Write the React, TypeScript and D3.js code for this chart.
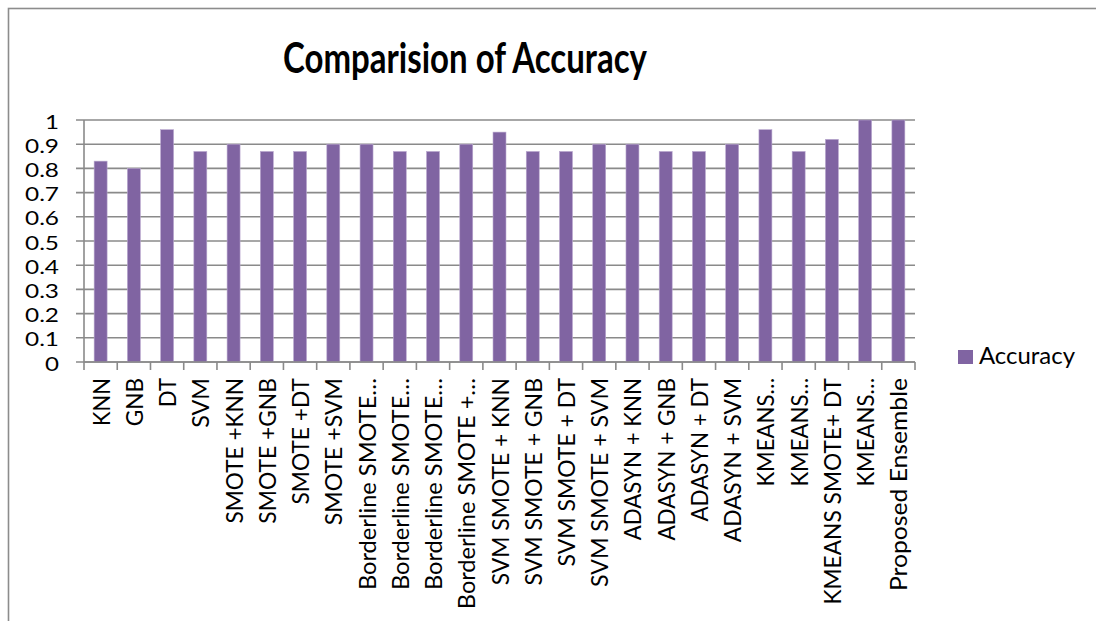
import React from "react";
import * as d3 from "d3";

const categories: string[] = [
  "KNN", "GNB", "DT", "SVM",
  "SMOTE +KNN", "SMOTE +GNB", "SMOTE +DT", "SMOTE +SVM",
  "Borderline SMOTE…", "Borderline SMOTE…", "Borderline SMOTE…", "Borderline SMOTE +…",
  "SVM SMOTE + KNN", "SVM SMOTE + GNB", "SVM SMOTE + DT", "SVM SMOTE + SVM",
  "ADASYN + KNN", "ADASYN + GNB", "ADASYN + DT", "ADASYN + SVM",
  "KMEANS…", "KMEANS…", "KMEANS SMOTE+ DT", "KMEANS…", "Proposed Ensemble",
];
const accuracy: number[] = [
  0.83, 0.8, 0.96, 0.87,
  0.9, 0.87, 0.87, 0.9,
  0.9, 0.87, 0.87, 0.9,
  0.95, 0.87, 0.87, 0.9,
  0.9, 0.87, 0.87, 0.9,
  0.96, 0.87, 0.92, 1.0, 1.0,
];
const yTicks: number[] = [0, 0.1, 0.2, 0.3, 0.4, 0.5, 0.6, 0.7, 0.8, 0.9, 1];
const seriesName = "Accuracy";
const title = "Comparision of Accuracy";

// approximate advance widths (em) of a Calibri-like face, used to size the rotated labels
const charEm: Record<string, number> = {
  " ": 0.226, "+": 0.498, "…": 0.55,
  A: 0.579, B: 0.544, D: 0.615, E: 0.488, G: 0.631, K: 0.52, M: 0.855, N: 0.646,
  O: 0.662, P: 0.517, S: 0.459, T: 0.487, V: 0.567, Y: 0.487,
  b: 0.525, d: 0.525, e: 0.498, i: 0.229, l: 0.229, m: 0.799, n: 0.525, o: 0.527,
  p: 0.525, r: 0.349, s: 0.391,
};
function emWidth(s: string): number {
  let w = 0;
  for (const ch of s) w += charEm[ch] ?? 0.5;
  return w;
}

export default function App() {
  const W = 1096, H = 621;
  const left = 84, right = 915, top = 120, bottom = 362;
  const idx = categories.map((_, i) => String(i));
  const x = d3.scaleBand<string>().domain(idx).range([left, right]).padding(0);
  const y = d3.scaleLinear().domain([0, 1]).range([bottom, top]);
  const bw = x.bandwidth() * 0.39;
  const grid = "#8a8a8a";
  const barColor = "#8064A2";
  const font = "Lato, 'Open Sans', sans-serif";
  const labelEm = 26.5;
  return (
    <svg width={W} height={H} style={{ position: "absolute", left: 0, top: 0 }} xmlns="http://www.w3.org/2000/svg">
      <rect x={0} y={0} width={W} height={H} fill="#fff" />
      <rect x={8.5} y={8.5} width={1200} height={800} fill="none" stroke="#8c8c8c" strokeWidth={1.6} />
      <text x={465} y={73} textAnchor="middle" fontFamily={font} fontWeight="bold" fontSize={42} textLength={364} lengthAdjust="spacingAndGlyphs" fill="#000">{title}</text>
      {yTicks.map((t) => {
        const s = String(t);
        const len = s.length === 1 ? 14 : 34;
        return (
          <g key={"g" + t}>
            <line x1={left - 8} x2={right} y1={y(t)} y2={y(t)} stroke={grid} strokeWidth={1.6} />
            <text x={59 - len} y={y(t) + 8.5} fontFamily={font} fontSize={20} textLength={len} lengthAdjust="spacingAndGlyphs" fill="#000">{s}</text>
          </g>
        );
      })}
      <line x1={left} x2={left} y1={top} y2={bottom} stroke={grid} strokeWidth={1.6} />
      {accuracy.map((v, i) => (
        <rect key={"b" + i} x={(x(String(i)) as number) + (x.bandwidth() - bw) / 2} y={y(v)} width={bw} height={bottom - y(v)} fill={barColor} stroke="#b9a8cf" strokeWidth={0.6} />
      ))}
      <line x1={left} x2={right} y1={bottom} y2={bottom} stroke={grid} strokeWidth={1.6} />
      {d3.range(categories.length + 1).map((i) => {
        const xx = left + i * x.step();
        return <line key={"t" + i} x1={xx} x2={xx} y1={bottom} y2={bottom + 8} stroke={grid} strokeWidth={1.6} />;
      })}
      {categories.map((c, i) => {
        const cx = (x(String(i)) as number) + x.bandwidth() / 2 + 9;
        const len = emWidth(c) * labelEm;
        return (
          <text key={"l" + i} transform={`translate(${cx}, 378) rotate(-90)`} x={-len} y={0} fontFamily={font} fontSize={24} textLength={len} lengthAdjust="spacingAndGlyphs" fill="#000">{c}</text>
        );
      })}
      <rect x={958} y={350} width={15} height={14} fill={barColor} />
      <text x={979} y={364} fontFamily={font} fontSize={22.5} textLength={96} lengthAdjust="spacingAndGlyphs" fill="#000">{seriesName}</text>
    </svg>
  );
}
